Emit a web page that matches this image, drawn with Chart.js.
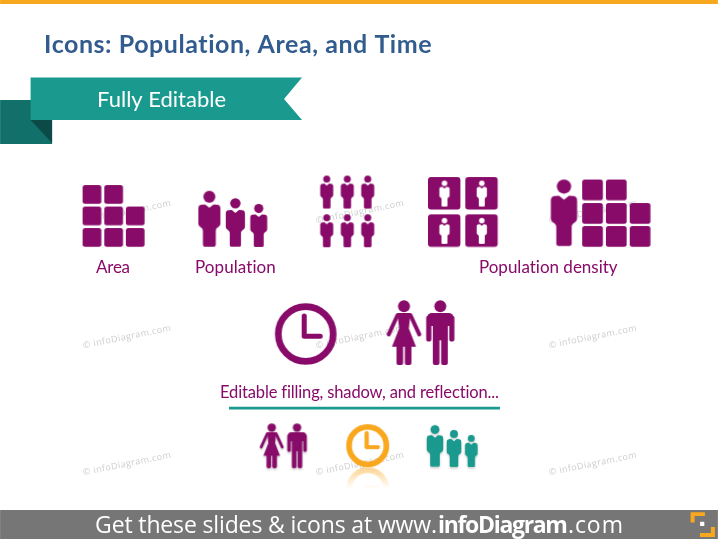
<!DOCTYPE html>
<html>
<head>
<meta charset="utf-8">
<style>html,body{margin:0;padding:0;background:#fff}canvas{display:block}</style>
<script src="https://cdn.jsdelivr.net/npm/chart.js@4/dist/chart.umd.min.js"></script>
</head>
<body>
<canvas id="c" width="718" height="539"></canvas>
<script>
// ---- slide content (values in slide units) ----
const titleText = "Icons: Population, Area, and Time";
const ribbonText = "Fully Editable";
const labelTexts = ["Area", "Population", "Population density", "Editable filling, shadow, and reflection..."];
const footerTexts = ["Get these slides & icons at www.", "infoDiagram", ".com"];
const watermarkText = "\u00A9 infoDiagram.com";
const watermarkX = [127, 360, 593];
const watermarkY = [212, 337, 464];

const areaTileX = [92, 113.7, 92, 113.7, 135.3, 92, 113.7, 135.3];
const areaTileY = [194.5, 194.5, 216, 216, 216, 237.5, 237.5, 237.5];
const crowdX = [209.3, 235.3, 258.7];
const crowdY = [218.7, 222.4, 225.4];
const gridPersonX = [326.7, 347.3, 367.7, 326.7, 347.3, 367.7];
const gridPersonY = [192, 192, 192, 230.7, 230.7, 230.7];
const densityTileX = [444.5, 481.8, 444.5, 481.8];
const densityTileY = [193.5, 193.5, 230.8, 230.8];
const bigPersonX = [564];
const bigPersonY = [212.7];
const bigTileX = [592.7, 616.5, 592.7, 616.5, 640.3, 592.7, 616.5, 640.3];
const bigTileY = [190, 190, 213.5, 213.5, 213.5, 236.5, 236.5, 236.5];
const clockX = [305.7, 367.7];
const clockY = [334, 445.7];
const reflectionX = [367.7];
const reflectionY = [489];
const womanX = [404, 271.7];
const womanY = [332.5, 445.8];
const manX = [440.3, 297];
const manY = [332.5, 445.8];
const tealX = [435, 454, 471.3];
const tealY = [445.9, 448.5, 451];

const topBarX = [0, 718, 718, 0];
const topBarY = [0, 0, 4, 4];
const footBarX = [0, 718, 718, 0];
const footBarY = [510, 510, 539, 539];
const ribbonX = [30.5, 302, 284, 302, 30.5];
const ribbonY = [77.5, 77.5, 99, 120, 120];
const tailX = [0, 52, 52, 0];
const tailY = [100, 100, 144, 144];
const foldX = [30.5, 52, 52];
const foldY = [120, 120, 143];
const ruleX = [229, 500, 500, 229];
const ruleY = [406.8, 406.8, 409.6, 409.6];
const logoAX = [690.7, 705, 705, 694.7, 694.7, 690.7];
const logoAY = [512.3, 512.3, 516, 516, 522.5, 522.5];
const logoBX = [715, 715, 700, 700, 711, 711];
const logoBY = [527, 537, 537, 533, 533, 527];
const logoDotX = [700.2, 704.4, 704.4, 700.2];
const logoDotY = [521.8, 521.8, 526, 526];

// ---- styles ----
const PURPLE = "#880A69", TEAL = "#1A9A8E", ORANGE = "#F9A71C";

function blank(w, h) {
  const c = document.createElement("canvas");
  c.width = Math.ceil(w); c.height = Math.ceil(h);
  return c;
}
function roundedTile(size, r, color) {
  const c = blank(size + 2, size + 2), g = c.getContext("2d");
  g.fillStyle = color; g.beginPath();
  g.roundRect(1, 1, size, size, r); g.fill();
  return c;
}
function personCanvas(h, color) {
  const w = h * 0.46, c = blank(w + 4, h + 4), g = c.getContext("2d");
  g.translate(c.width / 2, (c.height - h) / 2); g.scale(h, h);
  g.fillStyle = color;
  g.beginPath(); g.arc(0, 0.107, 0.107, 0, Math.PI * 2); g.fill();
  g.beginPath();
  g.moveTo(-0.075, 0.245); g.lineTo(0, 0.305); g.lineTo(0.075, 0.245);
  g.lineTo(0.14, 0.25); g.quadraticCurveTo(0.197, 0.255, 0.197, 0.32);
  g.lineTo(0.197, 0.58); g.bezierCurveTo(0.197, 0.66, 0.115, 0.64, 0.115, 0.72);
  g.lineTo(0.115, 0.965); g.quadraticCurveTo(0.115, 1, 0.08, 1);
  g.lineTo(-0.08, 1); g.quadraticCurveTo(-0.115, 1, -0.115, 0.965);
  g.lineTo(-0.115, 0.72); g.bezierCurveTo(-0.115, 0.64, -0.197, 0.66, -0.197, 0.58);
  g.lineTo(-0.197, 0.32); g.quadraticCurveTo(-0.197, 0.255, -0.14, 0.25);
  g.closePath(); g.fill();
  return c;
}
function legs(g, top) {
  g.beginPath();
  g.roundRect(-0.115, top, 0.102, 1 - top, [0, 0, 0.04, 0.04]);
  g.roundRect(0.013, top, 0.102, 1 - top, [0, 0, 0.04, 0.04]);
  g.fill();
}
function manCanvas(h, color) {
  const c = blank(h * 0.5 + 4, h + 4), g = c.getContext("2d");
  g.translate(c.width / 2, (c.height - h) / 2); g.scale(h, h);
  g.fillStyle = color; g.strokeStyle = color;
  g.beginPath(); g.arc(0, 0.095, 0.092, 0, Math.PI * 2); g.fill();
  g.beginPath(); g.roundRect(-0.2, 0.2, 0.4, 0.2, 0.07); g.fill();
  g.beginPath(); g.moveTo(-0.115, 0.25); g.lineTo(0.115, 0.25); g.lineTo(0.115, 0.62); g.lineTo(-0.115, 0.62); g.fill();
  g.lineWidth = 0.08; g.lineCap = "round";
  g.beginPath(); g.moveTo(-0.177, 0.28); g.lineTo(-0.177, 0.6); g.moveTo(0.177, 0.28); g.lineTo(0.177, 0.6); g.stroke();
  legs(g, 0.6);
  return c;
}
function womanCanvas(h, color) {
  const c = blank(h * 0.6 + 4, h + 4), g = c.getContext("2d");
  g.translate(c.width / 2, (c.height - h) / 2); g.scale(h, h);
  g.fillStyle = color; g.strokeStyle = color;
  g.beginPath(); g.arc(0, 0.095, 0.092, 0, Math.PI * 2); g.fill();
  g.beginPath();
  g.moveTo(-0.1, 0.2); g.lineTo(0.1, 0.2); g.lineTo(0.075, 0.44); g.lineTo(0.185, 0.72);
  g.lineTo(-0.185, 0.72); g.lineTo(-0.075, 0.44); g.closePath(); g.fill();
  g.lineWidth = 0.062; g.lineCap = "round";
  g.beginPath(); g.moveTo(-0.1, 0.235); g.lineTo(-0.235, 0.53); g.moveTo(0.1, 0.235); g.lineTo(0.235, 0.53); g.stroke();
  legs(g, 0.7);
  return c;
}
function clockCanvas(r, ring, color) {
  const s = 2 * r + 4, c = blank(s, s), g = c.getContext("2d"), m = c.width / 2;
  g.strokeStyle = color; g.lineWidth = ring;
  g.beginPath(); g.arc(m, m, r - ring / 2, 0, Math.PI * 2); g.stroke();
  g.lineWidth = ring * 0.75; g.lineCap = "round"; g.lineJoin = "round";
  g.beginPath(); g.moveTo(m - r * 0.05, m - r * 0.58); g.lineTo(m - r * 0.05, m + r * 0.07); g.lineTo(m + r * 0.47, m + r * 0.07); g.stroke();
  return c;
}
function shadowed(src, blur, dy, alpha) {
  const c = blank(src.width + 12, src.height + 12), g = c.getContext("2d");
  g.shadowColor = "rgba(0,0,0," + alpha + ")"; g.shadowBlur = blur; g.shadowOffsetY = dy;
  g.drawImage(src, 6, 6);
  return c;
}
function reflection(src) {
  const c = blank(src.width, src.height), g = c.getContext("2d");
  g.translate(0, c.height); g.scale(1, -1); g.drawImage(src, 0, 0);
  g.setTransform(1, 0, 0, 1, 0, 0);
  g.globalCompositeOperation = "destination-in";
  const grad = g.createLinearGradient(0, 0, 0, c.height * 0.5);
  grad.addColorStop(0, "rgba(0,0,0,0.55)"); grad.addColorStop(1, "rgba(0,0,0,0)");
  g.fillStyle = grad; g.fillRect(0, 0, c.width, c.height);
  const b = blank(c.width, c.height), bg = b.getContext("2d");
  bg.filter = "blur(0.7px)"; bg.drawImage(c, 0, 0);
  return b;
}
function pts(xs, ys) { return xs.map((x, i) => ({ x, y: ys[i] })); }
function shape(xs, ys, color) {
  return { data: pts(xs, ys), showLine: true, fill: "shape", backgroundColor: color, borderColor: color, borderWidth: 0, pointRadius: 0, pointHoverRadius: 0, pointBorderWidth: 0, tension: 0 };
}
function icons(xs, ys, styles) {
  return { data: pts(xs, ys), showLine: false, pointRadius: 0.1, pointHoverRadius: 0.1, pointBorderWidth: 0, pointStyle: ctx => styles[ctx.dataIndex % styles.length] };
}

const smallClock = clockCanvas(21.5, 5.6, ORANGE);
const drawOrder = [
  shape(topBarX, topBarY, "#F7A81F"),
  shape(footBarX, footBarY, "#767676"),
  shape(tailX, tailY, "#11706A"),
  shape(foldX, foldY, "#0B4A46"),
  shape(ribbonX, ribbonY, "#1A9A8E"),
  shape(ruleX, ruleY, TEAL),
  shape(logoAX, logoAY, ORANGE),
  shape(logoBX, logoBY, ORANGE),
  shape(logoDotX, logoDotY, "#FFFFFF"),
  icons(areaTileX, areaTileY, [roundedTile(18.7, 2.5, PURPLE)]),
  icons(crowdX, crowdY, [personCanvas(56, PURPLE), personCanvas(48.7, PURPLE), personCanvas(43, PURPLE)]),
  icons(gridPersonX, gridPersonY, [personCanvas(33, PURPLE)]),
  icons(densityTileX, densityTileY, [roundedTile(32.4, 3, PURPLE)]),
  icons(densityTileX, densityTileY, [personCanvas(26, "#FFFFFF")]),
  icons(bigPersonX, bigPersonY, [personCanvas(66.7, PURPLE)]),
  icons(bigTileX, bigTileY, [roundedTile(20.7, 2.5, PURPLE)]),
  icons(clockX, clockY, [clockCanvas(30.8, 6.7, PURPLE), shadowed(smallClock, 1, 0, 0.08)]),
  icons(reflectionX, reflectionY, [reflection(smallClock)]),
  icons(womanX, womanY, [womanCanvas(65, PURPLE), shadowed(womanCanvas(45, PURPLE), 2, 1.5, 0.22)]),
  icons(manX, manY, [manCanvas(65, PURPLE), shadowed(manCanvas(45, PURPLE), 2, 1.5, 0.22)]),
  icons(tealX, tealY, [shadowed(personCanvas(41.7, TEAL), 2, 1.5, 0.22), shadowed(personCanvas(37, TEAL), 2, 1.5, 0.22), shadowed(personCanvas(32, TEAL), 2, 1.5, 0.22)])
];
// Chart.js paints the first dataset last, so hand them over back to front.
const datasets = drawOrder.slice().reverse();

function fitText(ctx, chart, str, x0, x1, base, font, color) {
  const X = chart.scales.x, Y = chart.scales.y;
  const px0 = X.getPixelForValue(x0), px1 = X.getPixelForValue(x1);
  ctx.font = font; ctx.fillStyle = color; ctx.textAlign = "left"; ctx.textBaseline = "alphabetic";
  ctx.letterSpacing = "0px";
  const w = ctx.measureText(str).width;
  ctx.letterSpacing = ((px1 - px0 - w) / Math.max(1, str.length - 1)).toFixed(3) + "px";
  ctx.fillText(str, px0, Y.getPixelForValue(base));
  ctx.letterSpacing = "0px";
}
const slideText = {
  id: "slideText",
  beforeDatasetsDraw(chart) {
    const ctx = chart.ctx, X = chart.scales.x, Y = chart.scales.y;
    ctx.save();
    ctx.font = '400 9px "Open Sans"'; ctx.fillStyle = "#CDCDCD";
    ctx.textAlign = "center"; ctx.textBaseline = "middle"; ctx.letterSpacing = "0.45px";
    watermarkY.forEach(wy => watermarkX.forEach(wx => {
      ctx.save();
      ctx.translate(X.getPixelForValue(wx), Y.getPixelForValue(wy));
      ctx.rotate(-0.2);
      ctx.fillText(watermarkText, 0, 0);
      ctx.restore();
    }));
    ctx.restore();
  },
  afterDatasetsDraw(chart) {
    const ctx = chart.ctx;
    ctx.save();
    fitText(ctx, chart, titleText, 44, 432, 52.7, '700 25px Lato', "#335C8E");
    fitText(ctx, chart, ribbonText, 97, 226, 106.7, '400 22px Lato', "#FFFFFF");
    fitText(ctx, chart, labelTexts[0], 96, 130, 273, '400 17px Lato', PURPLE);
    fitText(ctx, chart, labelTexts[1], 195, 276, 273, '400 17px Lato', PURPLE);
    fitText(ctx, chart, labelTexts[2], 479, 618, 273, '400 17px Lato', PURPLE);
    fitText(ctx, chart, labelTexts[3], 220, 499, 398, '400 16.5px Lato', PURPLE);
    fitText(ctx, chart, footerTexts[0], 95, 437, 532.7, '400 23px "Open Sans"', "#FFFFFF");
    fitText(ctx, chart, footerTexts[1], 438, 568, 532.7, '700 23px "Open Sans"', "#FFFFFF");
    fitText(ctx, chart, footerTexts[2], 568, 623, 532.7, '400 23px "Open Sans"', "#FFFFFF");
    ctx.restore();
  }
};

new Chart(document.getElementById("c"), {
  type: "scatter",
  data: { datasets },
  options: {
    responsive: false, animation: false, devicePixelRatio: 1,
    layout: { padding: 0 },
    plugins: { legend: { display: false }, tooltip: { enabled: false }, title: { display: false } },
    scales: {
      x: { type: "linear", min: 0, max: 718, display: false },
      y: { type: "linear", min: 0, max: 539, reverse: true, display: false }
    }
  },
  plugins: [slideText]
});
</script>
</body>
</html>
